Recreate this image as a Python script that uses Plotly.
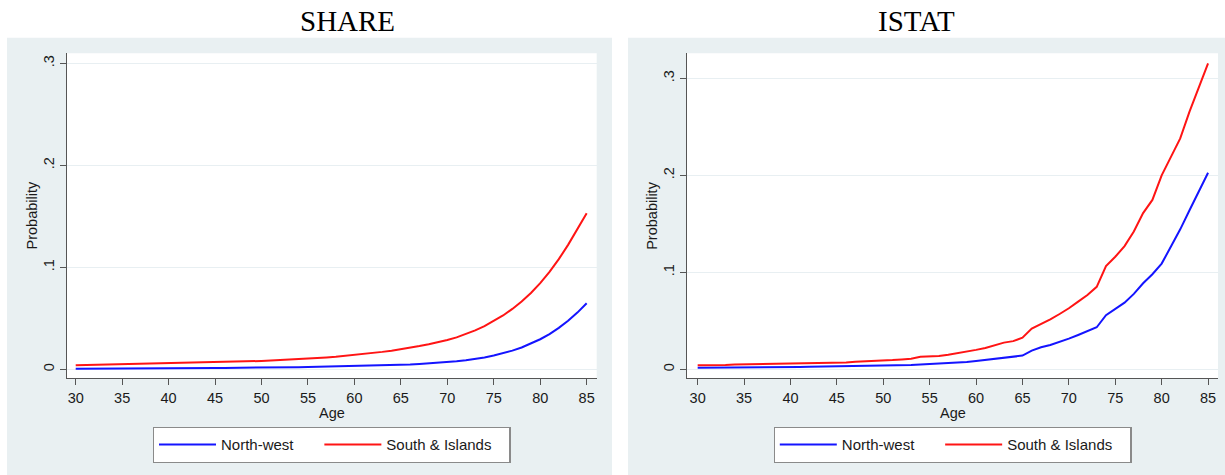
import plotly.graph_objects as go

ages = list(range(30, 86))

share_nw = [0.0006, 0.0006, 0.0007, 0.0007, 0.0008, 0.0008, 0.0008, 0.0009, 0.0009, 0.0010,
            0.0010, 0.0011, 0.0011, 0.0012, 0.0012, 0.0013, 0.0014, 0.0014, 0.0015, 0.0016,
            0.0017, 0.0018, 0.0019, 0.0020, 0.0021, 0.0022, 0.0024, 0.0025, 0.0027, 0.0029,
            0.0031, 0.0033, 0.0035, 0.0038, 0.0041, 0.0044, 0.0048, 0.0053, 0.0058, 0.0064,
            0.0072, 0.0080, 0.0090, 0.0102, 0.0117, 0.0135, 0.0157, 0.0183, 0.0214, 0.0251,
            0.0295, 0.0346, 0.0406, 0.0476, 0.0556, 0.0647]
share_si = [0.0040, 0.0042, 0.0043, 0.0045, 0.0046, 0.0048, 0.0050, 0.0052, 0.0054, 0.0055,
            0.0057, 0.0059, 0.0061, 0.0063, 0.0066, 0.0068, 0.0071, 0.0073, 0.0076, 0.0079,
            0.0082, 0.0086, 0.0090, 0.0094, 0.0098, 0.0103, 0.0110, 0.0117, 0.0124, 0.0132,
            0.0140, 0.0150, 0.0160, 0.0171, 0.0183, 0.0196, 0.0211, 0.0228, 0.0246, 0.0265,
            0.0287, 0.0313, 0.0345, 0.0382, 0.0424, 0.0472, 0.0528, 0.0592, 0.0665, 0.0748,
            0.0845, 0.0955, 0.1080, 0.1220, 0.1370, 0.1530]
istat_nw = [0.0017, 0.0017, 0.0018, 0.0019, 0.0021, 0.0022, 0.0022, 0.0023, 0.0023, 0.0024,
            0.0024, 0.0024, 0.0025, 0.0026, 0.0026, 0.0027, 0.0029, 0.0031, 0.0032, 0.0033,
            0.0034, 0.0036, 0.0039, 0.0043, 0.0050, 0.0055, 0.0058, 0.0062, 0.0069, 0.0076,
            0.0086, 0.0096, 0.0107, 0.0120, 0.0130, 0.0141, 0.0192, 0.0227, 0.0251, 0.0282,
            0.0316, 0.0354, 0.0395, 0.0433, 0.0557, 0.0619, 0.0687, 0.0777, 0.0887, 0.0980,
            0.1090, 0.1265, 0.1443, 0.1640, 0.1830, 0.2027]
istat_si = [0.0041, 0.0040, 0.0041, 0.0043, 0.0048, 0.0050, 0.0050, 0.0051, 0.0052, 0.0053,
            0.0055, 0.0054, 0.0058, 0.0060, 0.0061, 0.0065, 0.0071, 0.0077, 0.0081, 0.0082,
            0.0088, 0.0095, 0.0102, 0.0108, 0.0128, 0.0133, 0.0137, 0.0150, 0.0165, 0.0182,
            0.0200, 0.0220, 0.0244, 0.0275, 0.0290, 0.0326, 0.0420, 0.0467, 0.0515, 0.0570,
            0.0629, 0.0698, 0.0766, 0.0850, 0.1065, 0.1160, 0.1270, 0.1420, 0.1610, 0.1746,
            0.2000, 0.2190, 0.2380, 0.2656, 0.2900, 0.3155]

x_ticks = [30, 35, 40, 45, 50, 55, 60, 65, 70, 75, 80, 85]
y_ticks = [0, 0.1, 0.2, 0.3]
y_tick_text = ["0", ".1", ".2", ".3"]
panel_titles = ["SHARE", "ISTAT"]
series_names = ["North-west", "South & Islands"]
x_title = "Age"
y_title = "Probability"

W, H = 1225, 475
BG = "#e9f0f2"
AX = "#555555"
GRID = "#e8eff2"
FONT = "Liberation Sans, Arial, sans-serif"
TXT = "#1a1a1a"
BLUE = "#1414ff"
RED = "#ff1414"
NB = "\u00a0"
# trailing non-breaking spaces only widen legend entries to the reference spacing
legend_pad = [NB * 5, NB * 3]

def px(x):
    return x / W

def py(y):
    return 1 - y / H

# panel geometry (pixels)
panels = [
    dict(gx0=7, gx1=612, x0=66.7, x1=596.7, xr=[29.03, 86.08], yr=[-0.0088, 0.3098], title_x=347.5),
    dict(gx0=628, gx1=1225, x0=687.0, x1=1218.0, xr=[28.85, 86.07], yr=[-0.0093, 0.3258], title_x=916.3),
]
PY0, PY1 = 53.3, 378.3

fig = go.Figure()
data = [(share_nw, share_si), (istat_nw, istat_si)]
for i, (nw, si) in enumerate(data):
    sfx = "" if i == 0 else "2"
    leg = "legend" if i == 0 else "legend2"
    fig.add_trace(go.Scatter(x=ages, y=nw, mode="lines", name=series_names[0] + legend_pad[0],
                             line=dict(color=BLUE, width=2), xaxis="x" + sfx, yaxis="y" + sfx,
                             legend=leg))
    fig.add_trace(go.Scatter(x=ages, y=si, mode="lines", name=series_names[1] + legend_pad[1],
                             line=dict(color=RED, width=2), xaxis="x" + sfx, yaxis="y" + sfx,
                             legend=leg))

shapes = []
annotations = []
layout_axes = {}
for i, p in enumerate(panels):
    sfx = "" if i == 0 else "2"
    shapes.append(dict(type="rect", xref="paper", yref="paper", layer="below",
                       x0=px(p["gx0"]), x1=px(p["gx1"]), y0=0, y1=py(37.7),
                       fillcolor=BG, line=dict(width=0)))
    shapes.append(dict(type="rect", xref="paper", yref="paper", layer="below",
                       x0=px(p["x0"]), x1=px(p["x1"]), y0=py(PY1), y1=py(PY0),
                       fillcolor="white", line=dict(width=0)))
    layout_axes["xaxis" + sfx] = dict(
        domain=[px(p["x0"]), px(p["x1"])], range=p["xr"], anchor="y" + sfx,
        tickvals=x_ticks, showgrid=False, zeroline=False,
        showline=True, linecolor=AX, linewidth=1.3, ticks="outside", ticklen=6,
        tickcolor=AX, tickwidth=1.3, tickfont=dict(family=FONT, size=14.5, color=TXT),
    )
    layout_axes["yaxis" + sfx] = dict(
        domain=[py(PY1), py(PY0)], range=p["yr"], anchor="x" + sfx,
        tickvals=y_ticks, ticktext=y_tick_text, tickangle=-90,
        showgrid=True, gridcolor=GRID, gridwidth=1, zeroline=False,
        showline=True, linecolor=AX, linewidth=1.3, ticks="outside", ticklen=6,
        tickcolor=AX, tickwidth=1.3, tickfont=dict(family=FONT, size=14.5, color=TXT),
    )
    annotations.append(dict(text=panel_titles[i], xref="paper", yref="paper",
                            x=px(p["title_x"]), y=py(21), xanchor="center", yanchor="middle",
                            showarrow=False,
                            font=dict(family="Liberation Serif, Times New Roman, serif", size=29, color="black")))
    cx = (p["x0"] + p["x1"]) / 2
    annotations.append(dict(text=x_title, xref="paper", yref="paper",
                            x=px(cx), y=py(413.3), xanchor="center", yanchor="middle",
                            showarrow=False, font=dict(family=FONT, size=14.5, color=TXT)))
    annotations.append(dict(text=y_title, xref="paper", yref="paper",
                            x=px(p["x0"] - 35), y=py((PY0 + PY1) / 2), xanchor="center", yanchor="middle",
                            textangle=-90, showarrow=False, font=dict(family=FONT, size=14.5, color=TXT)))

legend_common = dict(orientation="h", xanchor="center", yanchor="top",
                     bgcolor="white", bordercolor="#8a8a8a", borderwidth=1.3,
                     font=dict(family=FONT, size=15, color=TXT),
                     itemwidth=57, itemclick=False, itemdoubleclick=False)

fig.update_layout(
    width=W, height=H, margin=dict(l=0, r=0, t=0, b=0),
    paper_bgcolor="white", plot_bgcolor="rgba(0,0,0,0)",
    shapes=shapes, annotations=annotations,
    legend=dict(x=px((panels[0]["x0"] + panels[0]["x1"]) / 2), y=py(427), **legend_common),
    legend2=dict(x=px((panels[1]["x0"] + panels[1]["x1"]) / 2), y=py(427), **legend_common),
    **layout_axes,
)

fig.write_html("out.html")
